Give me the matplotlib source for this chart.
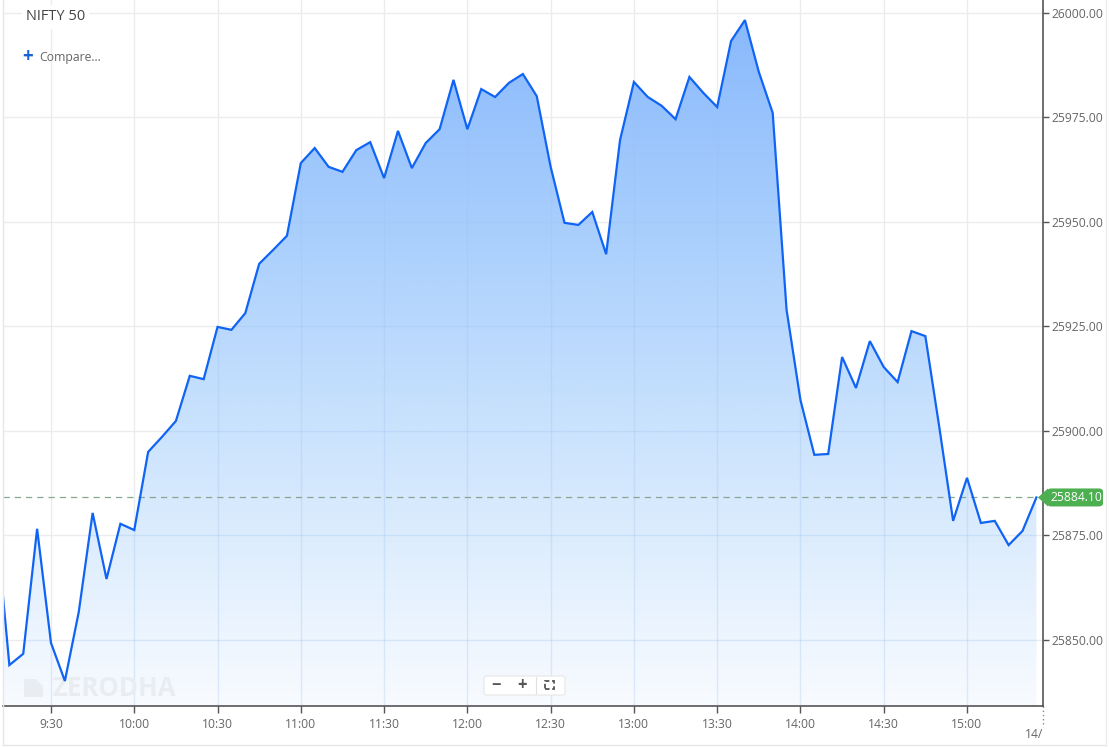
import numpy as np
import matplotlib
matplotlib.use("Agg")
import matplotlib.pyplot as plt
from matplotlib.colors import LinearSegmentedColormap
from matplotlib.patches import Polygon, FancyBboxPatch, Rectangle

plt.rcParams['font.family'] = ['Open Sans', 'DejaVu Sans']

# 5-minute closes, NIFTY 50 intraday (first point is the prior tick, clipped at the left edge)
times = ["9:10", "9:15", "9:20", "9:25", "9:30", "9:35", "9:40", "9:45", "9:50", "9:55",
         "10:00", "10:05", "10:10", "10:15", "10:20", "10:25", "10:30", "10:35", "10:40", "10:45",
         "10:50", "10:55", "11:00", "11:05", "11:10", "11:15", "11:20", "11:25", "11:30", "11:35",
         "11:40", "11:45", "11:50", "11:55", "12:00", "12:05", "12:10", "12:15", "12:20", "12:25",
         "12:30", "12:35", "12:40", "12:45", "12:50", "12:55", "13:00", "13:05", "13:10", "13:15",
         "13:20", "13:25", "13:30", "13:35", "13:40", "13:45", "13:50", "13:55", "14:00", "14:05",
         "14:10", "14:15", "14:20", "14:25", "14:30", "14:35", "14:40", "14:45", "14:50", "14:55",
         "15:00", "15:05", "15:10", "15:15", "15:20", "15:25"]
prices = [25879.9, 25844.0, 25846.7, 25876.6, 25849.3, 25840.2, 25856.7, 25880.4, 25864.6, 25877.8,
          25876.3, 25895.0, 25898.6, 25902.4, 25913.2, 25912.4, 25924.9, 25924.2, 25928.2, 25940.0,
          25943.3, 25946.7, 25964.1, 25967.7, 25963.2, 25962.0, 25967.2, 25969.1, 25960.5, 25971.8,
          25962.9, 25968.9, 25972.2, 25984.0, 25972.2, 25981.8, 25979.9, 25983.3, 25985.4, 25980.1,
          25963.2, 25949.8, 25949.3, 25952.4, 25942.3, 25969.6, 25983.5, 25979.9, 25977.8, 25974.6,
          25984.7, 25980.9, 25977.5, 25993.3, 25998.3, 25985.9, 25976.1, 25929.0, 25907.4, 25894.3,
          25894.5, 25917.7, 25910.3, 25921.5, 25915.3, 25911.7, 25923.9, 25922.7, 25901.0, 25878.5,
          25888.8, 25878.0, 25878.5, 25872.7, 25876.1, 25884.1]
last_price = 25884.10

x_ticks = ["9:30", "10:00", "10:30", "11:00", "11:30", "12:00", "12:30",
           "13:00", "13:30", "14:00", "14:30", "15:00"]
y_ticks = [25850, 25875, 25900, 25925, 25950, 25975, 26000]


def to_min(t):
    h, m = t.split(":")
    return int(h) * 60 + int(m)


x = np.array([to_min(t) for t in times], dtype=float)
y = np.array(prices)

W, H = 1109, 747
fig = plt.figure(figsize=(W / 100, H / 100), dpi=100)
fig.patch.set_facecolor("white")
ax = fig.add_axes([3 / W, 41 / H, 1040 / W, 706 / H])
ax.set_facecolor("white")

xmin, xmax = 552.71, 927.38
ymin, ymax = 25834.21, 26003.11
ax.set_xlim(xmin, xmax)
ax.set_ylim(ymin, ymax)

# grid
for t in x_ticks:
    ax.axvline(to_min(t), color="#ececec", lw=1, zorder=0)
for v in y_ticks:
    ax.axhline(v, color="#ececec", lw=1, zorder=0)

# gradient area
poly = ax.fill_between(x, y, ymin, color="none", lw=0)
area_path = poly.get_paths()[0]
cmap = LinearSegmentedColormap.from_list("g", ["#f8fbff", "#d2e7fd", "#abd0fd", "#88b8fc"])
grad = np.linspace(0, 1, 256).reshape(-1, 1)
img = ax.imshow(grad, extent=[xmin, xmax, ymin, 26000], origin="lower", aspect="auto",
                cmap=cmap, zorder=1, interpolation="bicubic")
img.set_clip_path(area_path, transform=ax.transData)
ax.set_xlim(xmin, xmax)
ax.set_ylim(ymin, ymax)

# grid lines faintly visible through the fill
for t in x_ticks:
    gl = ax.axvline(to_min(t), color="#9fc2ee", lw=1, alpha=0.3, zorder=1.5)
    gl.set_clip_path(area_path, transform=ax.transData)
for v in y_ticks:
    gl = ax.axhline(v, color="#9fc2ee", lw=1, alpha=0.3, zorder=1.5)
    gl.set_clip_path(area_path, transform=ax.transData)

ax.plot(x, y, color="#0f64f5", lw=1.6, zorder=3, solid_joinstyle="miter")

# last price line
ax.axhline(last_price, color="#86a892", lw=0.9, ls=(0, (5, 4)), zorder=2.5)

# spines / ticks
for s in ["top", "left"]:
    ax.spines[s].set_visible(False)
ax.spines["bottom"].set_color("#555555")
ax.spines["right"].set_color("#555555")
ax.spines["bottom"].set_linewidth(1.2)
ax.spines["right"].set_linewidth(1.2)
ax.yaxis.tick_right()
ax.set_yticks(y_ticks)
ax.set_yticklabels([f"{v:.2f}" for v in y_ticks])
ax.set_xticks([to_min(t) for t in x_ticks])
ax.set_xticklabels(x_ticks)
ax.tick_params(axis="both", colors="#555555", labelcolor="#666666", labelsize=8.7, length=5, width=1)
ax.tick_params(axis="x", pad=4)
ax.tick_params(axis="y", pad=2, length=4)

# clipped date tick at right edge
ax.plot([xmax, xmax], [0, -0.03], transform=ax.get_xaxis_transform(), color="#888888",
        lw=1, ls=(0, (1, 2)), clip_on=False)
fig.text(1043 / W, 1 - 735 / H, "14/", ha="right", va="center", fontsize=8.7, color="#666666")

# green last price tag
yf = ax.transData.transform((0, last_price))[1]
fy = fig.transFigure.inverted().transform((0, yf))[1]
tag_h = 18 / H
fig.patches.append(FancyBboxPatch((1047 / W, fy - tag_h / 2), 56 / W, tag_h,
                                  boxstyle="round,pad=0,rounding_size=0.004",
                                  transform=fig.transFigure, facecolor="#4caf50",
                                  edgecolor="none", zorder=5))
fig.patches.append(Polygon([(1038 / W, fy), (1048 / W, fy + tag_h / 2), (1048 / W, fy - tag_h / 2)],
                           closed=True, transform=fig.transFigure, facecolor="#4caf50",
                           edgecolor="none", zorder=5))
fig.text(1076 / W, fy, f"{last_price:.2f}", ha="center", va="center", fontsize=8.7,
         color="white", zorder=6)

# title and compare
ax.text(23 / 1040, 1 - 17 / 706, "NIFTY 50", transform=ax.transAxes, fontsize=10.5,
        color="#444444", va="center", ha="left", zorder=6,
        bbox=dict(facecolor="white", edgecolor="none", pad=3))
ax.text(19 / 1040, 1 - 57 / 706, "+", transform=ax.transAxes, fontsize=13.5, fontweight="bold",
        color="#1a62d6", va="center", ha="left", zorder=6)
ax.text(36 / 1040, 1 - 57 / 706, "Compare...", transform=ax.transAxes, fontsize=8.8,
        color="#666666", va="center", ha="left", zorder=6)

# watermark
ax.text(49 / 1040, 1 - 688 / 706, "ZERODHA", transform=ax.transAxes, fontsize=18.5,
        fontweight="bold", color="#e9ecf0", va="center", ha="left", zorder=2)
ax.add_patch(Polygon([(21 / 1040, 1 - 679 / 706), (33 / 1040, 1 - 679 / 706),
                      (40 / 1040, 1 - 686 / 706), (40 / 1040, 1 - 697 / 706),
                      (21 / 1040, 1 - 697 / 706)], closed=True, transform=ax.transAxes,
                     facecolor="#e9ecf0", edgecolor="none", zorder=2))

# zoom controls
bx0, by0, bw, bh = 481 / 1040, 1 - 695 / 706, 81 / 1040, 19 / 706
ax.add_patch(FancyBboxPatch((bx0, by0), bw, bh, boxstyle="round,pad=0,rounding_size=0.003",
                            transform=ax.transAxes, facecolor="white", edgecolor="#e6e6e6",
                            lw=0.8, zorder=6))
ax.text(493 / 1040, 1 - 685 / 706, "\u2212", transform=ax.transAxes, fontsize=12,
        fontweight="bold", color="#555555", ha="center", va="center", zorder=7)
ax.text(519 / 1040, 1 - 685 / 706, "+", transform=ax.transAxes, fontsize=12,
        fontweight="bold", color="#555555", ha="center", va="center", zorder=7)
ax.plot([533 / 1040, 533 / 1040], [1 - 677 / 706, 1 - 693 / 706], transform=ax.transAxes,
        color="#e0e0e0", lw=0.8, zorder=7)
ax.add_patch(Rectangle((542 / 1040, 1 - 689 / 706), 9 / 1040, 8 / 706, transform=ax.transAxes,
                       facecolor="none", edgecolor="#555555", lw=1.3, ls=(0, (2.5, 1.5)), zorder=7))

# container border
fig.add_artist(plt.Line2D([3 / W, 3 / W], [0.003, 1], transform=fig.transFigure,
                          color="#e6e6e6", lw=1))
fig.add_artist(plt.Line2D([3 / W, 1106 / W], [2 / H, 2 / H], transform=fig.transFigure,
                          color="#e6e6e6", lw=1))
fig.add_artist(plt.Line2D([1106 / W, 1106 / W], [0.003, 1], transform=fig.transFigure,
                          color="#ececec", lw=1))

fig.savefig("out.png", dpi=100, facecolor="white")
